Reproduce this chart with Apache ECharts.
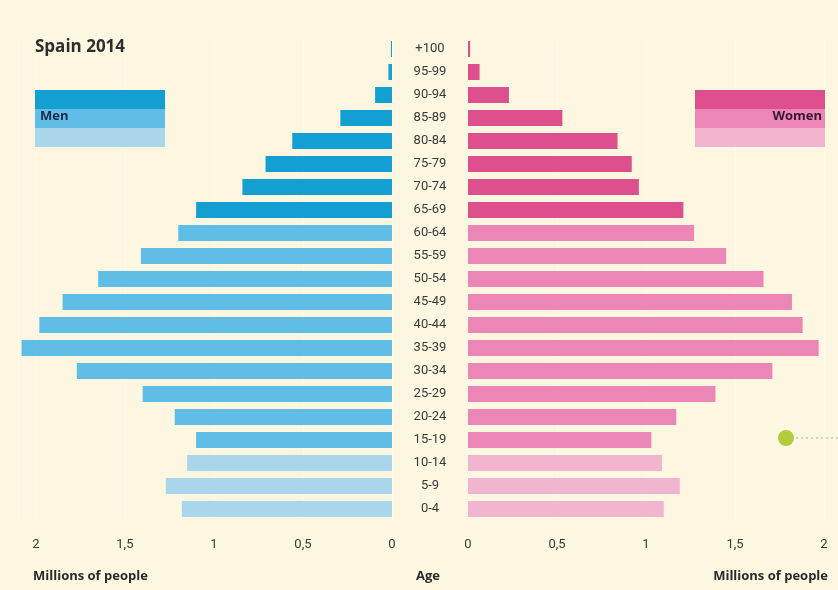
<!DOCTYPE html>
<html>
<head>
<meta charset="utf-8">
<script src="https://cdn.jsdelivr.net/npm/echarts@6/dist/echarts.min.js"></script>
<style>
html,body{margin:0;padding:0;background:#fdf6e0;}
#c{width:838px;height:590px;}
</style>
</head>
<body>
<div id="c"></div>
<script>
// Age groups, youngest first (bottom of pyramid)
const ageGroups = ["0-4","5-9","10-14","15-19","20-24","25-29","30-34","35-39","40-44","45-49",
  "50-54","55-59","60-64","65-69","70-74","75-79","80-84","85-89","90-94","95-99","+100"];
// Millions of people
const menValues = [1.18,1.27,1.15,1.10,1.22,1.40,1.77,2.08,1.98,1.85,
  1.65,1.41,1.20,1.10,0.84,0.71,0.56,0.29,0.095,0.02,0.006];
const womenValues = [1.10,1.19,1.09,1.03,1.17,1.39,1.71,1.97,1.88,1.82,
  1.66,1.45,1.27,1.21,0.96,0.92,0.84,0.53,0.23,0.065,0.012];
const tickValues = [0,0.5,1,1.5,2];

const menColors = ['#a9d6ea','#5fbde6','#139fd1'];
const womenColors = ['#f1b5cf','#eb86b6','#de4f8d'];
function band(i){ return i < 3 ? 0 : (i < 13 ? 1 : 2); }
function fmt(v){
  if (Math.abs(v*2 - Math.round(v*2)) > 1e-9 || tickValues.indexOf(Math.round(v*2)/2) < 0) return '';
  return String(v).replace('.', ',');
}

const chart = echarts.init(document.getElementById('c'), null, {renderer:'canvas'});
const axisLabelFont = {fontFamily:'Roboto, sans-serif', fontSize:13, color:'#3a3a3a'};
const F = '"Open Sans", sans-serif';
chart.setOption({
  backgroundColor:'#fdf6e0',
  animation:false,
  grid:[
    {left:18, width:374, top:37.5, height:483},
    {left:468, width:356, top:37.5, height:483}
  ],
  xAxis:[
    {gridIndex:0, type:'value', inverse:true, min:0, max:2.1, interval:0.5,
     axisLine:{show:false}, axisTick:{show:false},
     splitLine:{show:true, lineStyle:{color:'#fef9ea', width:1}},
     axisLabel:Object.assign({margin:18, formatter:fmt}, axisLabelFont)},
    {gridIndex:1, type:'value', min:0, max:2, interval:0.5,
     axisLine:{show:false}, axisTick:{show:false},
     splitLine:{show:true, lineStyle:{color:'#fef9ea', width:1}},
     axisLabel:Object.assign({margin:18, formatter:fmt}, axisLabelFont)}
  ],
  yAxis:[
    {gridIndex:0, type:'category', data:ageGroups, position:'right',
     axisLine:{show:false}, axisTick:{show:false},
     axisLabel:Object.assign({margin:38, align:'center'}, axisLabelFont)},
    {gridIndex:1, type:'category', data:ageGroups,
     axisLine:{show:false}, axisTick:{show:false}, axisLabel:{show:false}}
  ],
  series:[
    {name:'Men', type:'bar', xAxisIndex:0, yAxisIndex:0, data:menValues, barWidth:16,
     itemStyle:{color:p => menColors[band(p.dataIndex)]}},
    {name:'Women', type:'bar', xAxisIndex:1, yAxisIndex:1, data:womenValues, barWidth:16,
     itemStyle:{color:p => womenColors[band(p.dataIndex)]}}
  ],
  graphic:[
    {type:'text', z:100, left:35, top:39, style:{text:'Spain 2014', fontFamily:F, fontWeight:'bold', fontSize:17, fill:'#2e2e2e'}},
    // Men legend
    {type:'rect', z:100, shape:{x:35, y:90, width:130, height:19}, style:{fill:menColors[2]}},
    {type:'rect', z:100, shape:{x:35, y:109, width:130, height:19}, style:{fill:menColors[1]}},
    {type:'rect', z:100, shape:{x:35, y:128, width:130, height:19}, style:{fill:menColors[0]}},
    {type:'text', z:101, left:40, top:110, style:{text:'Men', fontFamily:F, fontWeight:'bold', fontSize:13, fill:'#1d2a4a'}},
    // Women legend
    {type:'rect', z:100, shape:{x:695, y:90, width:130, height:19}, style:{fill:womenColors[2]}},
    {type:'rect', z:100, shape:{x:695, y:109, width:130, height:19}, style:{fill:womenColors[1]}},
    {type:'rect', z:100, shape:{x:695, y:128, width:130, height:19}, style:{fill:womenColors[0]}},
    {type:'text', z:101, right:16, top:110, style:{text:'Women', fontFamily:F, fontWeight:'bold', fontSize:13, fill:'#3a1434', align:'right'}},
    // bottom captions
    {type:'text', z:100, left:33, top:570, style:{text:'Millions of people', fontFamily:F, fontWeight:'bold', fontSize:13, fill:'#2a2a2a'}},
    {type:'text', z:100, left:416, top:570, style:{text:'Age', fontFamily:F, fontWeight:'bold', fontSize:13, fill:'#2a2a2a'}},
    {type:'text', z:100, right:10, top:570, style:{text:'Millions of people', fontFamily:F, fontWeight:'bold', fontSize:13, fill:'#2a2a2a', align:'right'}},
    // green marker with dotted leader
    {type:'circle', z:100, shape:{cx:786, cy:438, r:8}, style:{fill:'#b2cc3a'}},
    {type:'line', z:100, shape:{x1:796, y1:438, x2:838, y2:438}, style:{stroke:'#b9b3a0', lineWidth:1, lineDash:[2,3]}}
  ]
});
</script>
</body>
</html>
